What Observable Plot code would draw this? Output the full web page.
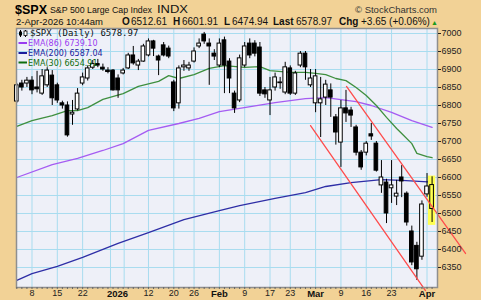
<!DOCTYPE html>
<html><head><meta charset="utf-8">
<script src="https://cdn.jsdelivr.net/npm/d3@7"></script>
<script src="https://cdn.jsdelivr.net/npm/@observablehq/plot@0.6"></script>
<style>
html,body{margin:0;padding:0;background:#f2d296;}
#wrap{position:relative;width:481px;height:300px;overflow:hidden;background:#f2d296;}
#wrap svg.ov{position:absolute;left:0;top:0;pointer-events:none;overflow:visible;}
</style></head><body><div id="wrap"></div>
<script>
// ---- data ----
const dates = ["2025-12-03","2025-12-04","2025-12-05","2025-12-08","2025-12-09","2025-12-10","2025-12-11","2025-12-12","2025-12-15","2025-12-16","2025-12-17","2025-12-18","2025-12-19","2025-12-22","2025-12-23","2025-12-24","2025-12-26","2025-12-29","2025-12-30","2025-12-31",
"2026-01-02","2026-01-05","2026-01-06","2026-01-07","2026-01-08","2026-01-09","2026-01-12","2026-01-13","2026-01-14","2026-01-15","2026-01-16","2026-01-20","2026-01-21","2026-01-22","2026-01-23","2026-01-26","2026-01-27","2026-01-28","2026-01-29","2026-01-30",
"2026-02-02","2026-02-03","2026-02-04","2026-02-05","2026-02-06","2026-02-09","2026-02-10","2026-02-11","2026-02-12","2026-02-13","2026-02-17","2026-02-18","2026-02-19","2026-02-20","2026-02-23","2026-02-24","2026-02-25","2026-02-26","2026-02-27",
"2026-03-02","2026-03-03","2026-03-04","2026-03-05","2026-03-06","2026-03-09","2026-03-10","2026-03-11","2026-03-12","2026-03-13","2026-03-16","2026-03-17","2026-03-18","2026-03-19","2026-03-20","2026-03-23","2026-03-24","2026-03-25","2026-03-26","2026-03-27","2026-03-30","2026-03-31",
"2026-04-01","2026-04-02"];
const firstIndex = -3; // trading-day index of the first candle (Dec 8 = 0)
const opens  = [6811,6861,6861,6869,6850,6833,6856,6883,6856,6806,6800,6775,6789,6861,6875,6905,6915,6905,6897,6897,
6875,6889,6903,6939,6911,6922,6939,6978,6936,6967,6958,6864,6806,6906,6903,6922,6964,6997,6972,6944,
6911,6981,6922,6833,6814,6911,6972,6972,6961,6842,6814,6850,6862,6836,6903,6833,6911,6944,6856,
6806,6806,6822,6842,6767,6697,6792,6786,6739,6669,6669,6720,6694,6578,6586,6570,6547,6600,6555,6450,6410,6380,
6553,6512.61];
const highs  = [6861,6870,6878,6880,6895,6900,6905,6897,6862,6812,6810,6814,6847,6890,6910,6925,6928,6915,6905,6900,
6885,6903,6945,6964,6928,6970,6985,6981,6940,6975,6965,6870,6910,6925,6920,6960,6985,7003,6985,6955,
6985,6990,6930,6840,6940,6975,6985,6980,6975,6850,6878,6890,6878,6920,6910,6895,6950,6950,6900,
6900,6878,6870,6860,6775,6814,6842,6795,6745,6675,6700,6750,6700,6647,6595,6647,6592,6633,6560,6465,6420,6535,
6611,6601.91];
const lows   = [6806,6840,6850,6830,6835,6828,6850,6800,6806,6790,6712,6745,6785,6855,6868,6900,6905,6895,6888,6840,
6820,6885,6900,6912,6897,6920,6935,6936,6883,6935,6930,6783,6790,6895,6895,6918,6958,6970,6856,6925,
6905,6833,6833,6778,6808,6905,6930,6935,6825,6820,6772,6840,6845,6830,6828,6828,6905,6870,6850,
6780,6711,6800,6767,6690,6628,6753,6739,6660,6620,6660,6703,6615,6556,6472,6528,6522,6544,6465,6355,6314,6370,
6545,6474.94];
const closes = [6856,6850,6869,6842,6845,6881,6897,6820,6814,6800,6717,6780,6833,6878,6903,6915,6911,6900,6893,6842,
6842,6897,6939,6917,6922,6964,6978,6958,6925,6939,6936,6792,6903,6911,6911,6950,6972,6978,6964,6936,
6972,6911,6875,6792,6931,6964,6939,6944,6833,6831,6842,6878,6864,6906,6833,6889,6944,6906,6875,
6881,6817,6858,6822,6725,6792,6778,6772,6669,6628,6694,6714,6619,6600,6500,6578,6555,6589,6475,6364,6345,6525,
6575,6578.97];

const ema86Idx = [-3,4,9,14,18,23,29,33,37,41,48,54,58,64,67,71,75,79];
const ema86Val = [6600,6636,6653,6675,6694,6731,6750,6764,6783,6792,6808,6819,6822,6811,6800,6781,6758,6739.10];
const ema200Idx = [-3,0,5,10,17,23,30,37,41,48,54,58,63,69,73,79];
const ema200Val = [6314,6333,6353,6378,6417,6447,6483,6508,6522,6542,6558,6575,6586,6594,6592,6587.04];
const ema30Idx = [-3,0,4,7,9,11,14,18,21,25,27,29,32,35,38,42,45,47,51,54,56,58,60,62,64,66,68,70,72,73,75,76,78,79];
const ema30Val = [6742,6758,6772,6786,6786,6794,6817,6833,6853,6867,6883,6875,6886,6903,6911,6906,6908,6897,6892,6892,6889,6886,6875,6869,6850,6828,6800,6767,6736,6722,6694,6667,6658,6654.91];

const trendUpperIdx = [62.1, 85.6];
const trendUpperVal = [6853, 6389];
const trendLowerIdx = [55, 77.7];
const trendLowerVal = [6744, 6286];

const yTicks = [6350,6400,6450,6500,6550,6600,6650,6700,6750,6800,6850,6900,6950,7000];
const xLabelIdx = [0,5,10,16.9,23,28,32,37,42,47,51,56,61,66,71,78];
const xLabels = ["8","15","22","2026","12","20","26","Feb","9","17","23","Mar","9","16","23","Apr"];
const xLabelBold = ["2026","Feb","Mar","Apr"];
const xGridIdx = [0,5,10,15.5,18.2,23,28,32,37,42,47,51,56,61,66,71,78];

const header = {symbol:"$SPX", name:"S&P 500 Large Cap Index", exch:"INDX", stamp:"2-Apr-2026 10:44am",
  O:"6512.61", H:"6601.91", L:"6474.94", Last:"6578.97", Chg:"+3.65 (+0.06%)"};
const legendRows = [
  {text:"$SPX (Daily) 6578.97", color:"#111"},
  {text:"EMA(86) 6739.10", color:"#9a3cf0"},
  {text:"EMA(200) 6587.04", color:"#1c1c9c"},
  {text:"EMA(30) 6654.91", color:"#0e6e0e"}
];

// ---- build tables ----
const candles = dates.map((d,k)=>({i:k+firstIndex, date:d, o:opens[k], h:highs[k], l:lows[k], c:closes[k]}));
const lastC = candles[candles.length-1];
const upC = candles.filter(d=>d.c>=d.o && d!==lastC);
const dnC = candles.filter(d=>d.c<d.o);
const toPts = (ix,v)=>ix.map((x,k)=>({i:x,p:v[k]}));
const ema86 = toPts(ema86Idx, ema86Val);
const ema200 = toPts(ema200Idx, ema200Val);
const ema30 = toPts(ema30Idx, ema30Val);
const trendU = toPts(trendUpperIdx, trendUpperVal);
const trendL = toPts(trendLowerIdx, trendLowerVal);
const xLab = xLabelIdx.map((x,k)=>({i:x, t:xLabels[k]}));
const hw = 0.36;

const chart = Plot.plot({
  width: 481, height: 300,
  marginTop: 28, marginBottom: 13, marginLeft: 16, marginRight: 44,
  x: {domain: [-3.06, 80.07], axis: null},
  y: {domain: [6294.4, 7013.9], axis: null},
  style: {background: "transparent", overflow: "visible", fontFamily: "Liberation Sans, Arial, sans-serif"},
  marks: [
    Plot.frame({fill: "#eef0f8"}),
    Plot.gridY(yTicks, {stroke: "#a8dcef", strokeOpacity: 1}),
    Plot.gridX(xGridIdx, {stroke: "#a8dcef", strokeOpacity: 1}),
    Plot.line(ema86, {x: "i", y: "p", stroke: "#a55cf2", strokeWidth: 1.3}),
    Plot.line(ema200, {x: "i", y: "p", stroke: "#2e2ea6", strokeWidth: 1.3}),
    Plot.line(ema30, {x: "i", y: "p", stroke: "#3f8f3f", strokeWidth: 1.3}),
    Plot.rect([lastC], {x1: d=>d.i-0.72, x2: d=>d.i+0.72, y1: d=>d.l-8, y2: d=>d.h+2, fill: "#ffff50"}),
    Plot.ruleX(candles, {x: "i", y1: "l", y2: "h", stroke: "#000", strokeWidth: 1}),
    Plot.rect(upC, {x1: d=>d.i-hw, x2: d=>d.i+hw, y1: "o", y2: "c", fill: "#fff", stroke: "#000", strokeWidth: 1}),
    Plot.rect([lastC], {x1: d=>d.i-hw, x2: d=>d.i+hw, y1: "o", y2: "c", fill: "#ffff50", stroke: "#000", strokeWidth: 1}),
    Plot.rect(dnC, {x1: d=>d.i-hw, x2: d=>d.i+hw, y1: "o", y2: "c", fill: "#000", stroke: "#000", strokeWidth: 1}),
    Plot.line(trendU, {x: "i", y: "p", stroke: "#ff4c4c", strokeWidth: 1.3}),
    Plot.line(trendL, {x: "i", y: "p", stroke: "#ff4c4c", strokeWidth: 1.3}),
    Plot.frame({stroke: "#8f8f8f", strokeWidth: 1.5}),
    Plot.axisY(yTicks, {anchor: "right", tickSize: 3, tickPadding: 1, fontSize: 9, color: "#222", label: null, tickFormat: d => String(d)}),
    Plot.axisX(candles.map(d=>d.i), {anchor: "bottom", tickSize: 2, tickFormat: () => "", stroke: "#666", label: null}),
    Plot.text(xLab.filter(d=>!xLabelBold.includes(d.t)), {x: "i", text: "t", frameAnchor: "bottom", lineAnchor: "top", dy: 2.5, fontSize: 9, fill: "#222"}),
    Plot.text(xLab.filter(d=>xLabelBold.includes(d.t)), {x: "i", text: "t", frameAnchor: "bottom", lineAnchor: "top", dy: 2.5, fontSize: 9.5, fontWeight: "bold", fill: "#111"})
  ]
});
const wrap = document.getElementById("wrap");
wrap.appendChild(chart);

// ---- header & legend text overlay ----
const ns = "http://www.w3.org/2000/svg";
const ov = document.createElementNS(ns, "svg");
ov.setAttribute("class","ov"); ov.setAttribute("width","481"); ov.setAttribute("height","300");
function T(txt, x, y, o={}) {
  const t = document.createElementNS(ns, "text");
  t.textContent = txt; t.setAttribute("x", x); t.setAttribute("y", y);
  t.setAttribute("font-family", o.ff || "Liberation Sans, Arial, sans-serif");
  t.setAttribute("font-size", o.fs || 10);
  if (o.fw) t.setAttribute("font-weight", o.fw);
  t.setAttribute("fill", o.fill || "#111");
  if (o.len) { t.setAttribute("textLength", o.len); t.setAttribute("lengthAdjust", "spacingAndGlyphs"); }
  ov.appendChild(t); return t;
}
T(header.symbol, 15, 13.5, {fs: 13, fw: "bold", len: 32, fill: "#000"});
T(header.name, 50, 12.8, {fs: 8.8, len: 102, fill: "#111"});
T(header.exch, 157, 12.8, {fs: 10, len: 31, fill: "#111"});
T("\u00A9 StockCharts.com", 355, 12.6, {fs: 9.5, len: 82, fill: "#333"});
T(header.stamp, 16, 25, {fs: 9.5, len: 87});
T("O", 122, 25, {fs: 10, fw: "bold"}); T(header.O, 131, 25, {fs: 10});
T("H", 173, 25, {fs: 10, fw: "bold"}); T(header.H, 182, 25, {fs: 10});
T("L", 224, 25, {fs: 10, fw: "bold"}); T(header.L, 232, 25, {fs: 10});
T("Last", 273, 25, {fs: 10, fw: "bold"}); T(header.Last, 296, 25, {fs: 10});
T("Chg", 339, 25, {fs: 10, fw: "bold"}); T(header.Chg, 361, 25, {fs: 10});
T("\u25B2", 431, 24.5, {fs: 7, fill: "#1a9a1a"});

// legend
const base = [36, 46, 56, 65.5];
const ic = document.createElementNS(ns, "g");
ic.innerHTML = '<line x1="20.5" y1="30" x2="20.5" y2="37" stroke="#000"/><rect x="19" y="31.5" width="3" height="4" fill="#000"/>' +
               '<line x1="25.5" y1="30" x2="25.5" y2="37" stroke="#000"/><rect x="24" y="31" width="3" height="4.5" fill="#fff" stroke="#000" stroke-width="0.8"/>';
ov.appendChild(ic);
legendRows.forEach((r,k)=>{
  if (k===0) {
    T(r.text, 30, base[k], {ff: "DejaVu Sans Mono, monospace", fs: 9, fill: r.color});
  } else {
    const ln = document.createElementNS(ns, "line");
    ln.setAttribute("x1", 18.5); ln.setAttribute("x2", 27); ln.setAttribute("y1", base[k]-3); ln.setAttribute("y2", base[k]-3);
    ln.setAttribute("stroke", r.color); ln.setAttribute("stroke-width", 2);
    ov.appendChild(ln);
    T(r.text, 28, base[k], {ff: "DejaVu Sans, sans-serif", fs: 8, fill: r.color});
  }
});
wrap.appendChild(ov);
</script></body></html>
